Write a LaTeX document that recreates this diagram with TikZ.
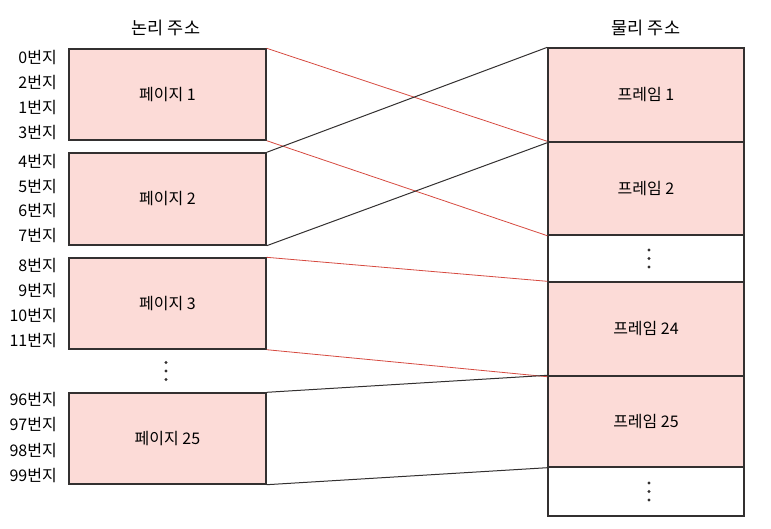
\documentclass[tikz,border=0pt]{standalone}
\usepackage{fontspec}
\setmainfont{Noto Sans CJK KR}
\definecolor{pagepink}{RGB}{252,219,215}
\definecolor{mapred}{RGB}{214,74,64}
\definecolor{inkgray}{RGB}{51,48,48}
\begin{document}
\begin{tikzpicture}[x=1pt,y=-1pt,
 pagebox/.style={draw=inkgray,line width=1.4pt,fill=pagepink,minimum width=197pt,inner sep=0pt,font=\fontsize{16}{18}\selectfont},
 framebox/.style={draw=inkgray,line width=1.4pt,fill=pagepink,minimum width=196pt,inner sep=0pt,font=\fontsize{16}{18}\selectfont},
 emptybox/.style={draw=inkgray,line width=1.4pt,fill=white,minimum width=196pt,inner sep=0pt},
 addr/.style={anchor=east,inner sep=0pt,font=\fontsize{16}{18}\selectfont},
 headline/.style={inner sep=0pt,font=\fontsize{17.5}{20}\selectfont},
 redmap/.style={draw=mapred,line width=0.8pt},
 blackmap/.style={draw=inkgray,line width=1pt}]
 \useasboundingbox (0,0) rectangle (771,528);
 \node[headline] (logtitle) at (166,28) {논리 주소};
 \node[headline] (phystitle) at (646,28) {물리 주소};
 \node[pagebox,minimum height=91pt] (page1) at (167.5,94.5) {페이지 1};
 \node[pagebox,minimum height=92pt] (page2) at (167.5,199) {페이지 2};
 \node[pagebox,minimum height=91pt] (page3) at (167.5,303.5) {페이지 3};
 \node[pagebox,minimum height=91pt] (page25) at (167.5,438.5) {페이지 25};
 \coordinate (gap) at (166,371);
 \foreach \n/\y in {0/58,2/83,1/108,3/133,4/162,5/187,6/211,7/236,8/266,9/291,10/316,11/341,96/400,97/425,98/450,99/475}
  \node[addr] (addr\n) at (57,\y) {\n{}번지};
 \node[framebox,minimum height=94pt] (frame1) at (646,95) {프레임 1};
 \node[framebox,minimum height=93pt] (frame2) at (646,188.5) {프레임 2};
 \node[emptybox,minimum height=47pt] (dotsA) at (646,258.5) {};
 \node[framebox,minimum height=94pt] (frame24) at (646,329) {프레임 24};
 \node[framebox,minimum height=91pt] (frame25) at (646,421.5) {프레임 25};
 \node[emptybox,minimum height=49pt] (dotsB) at (646,491.5) {};
 \foreach \d in {-8.5,0,8.5} {
  \fill[inkgray] ([yshift=\d pt]gap) circle (1.7pt);
  \fill[inkgray] ([xshift=3pt,yshift=\d pt]dotsA.center) circle (1.7pt);
  \fill[inkgray] ([xshift=3pt,yshift=\d pt]dotsB.center) circle (1.7pt);
 }
 \draw[redmap] (page1.north east) -- (frame2.north west);
 \draw[redmap] (page1.south east) -- (frame2.south west);
 \draw[blackmap] (page2.north east) -- (frame1.north west);
 \draw[blackmap] (page2.south east) -- (frame1.south west);
 \draw[redmap] (page3.north east) -- (frame24.north west);
 \draw[redmap] (page3.south east) -- (frame24.south west);
 \draw[blackmap] (page25.north east) -- (frame25.north west);
 \draw[blackmap] (page25.south east) -- (frame25.south west);
\end{tikzpicture}
\end{document}
